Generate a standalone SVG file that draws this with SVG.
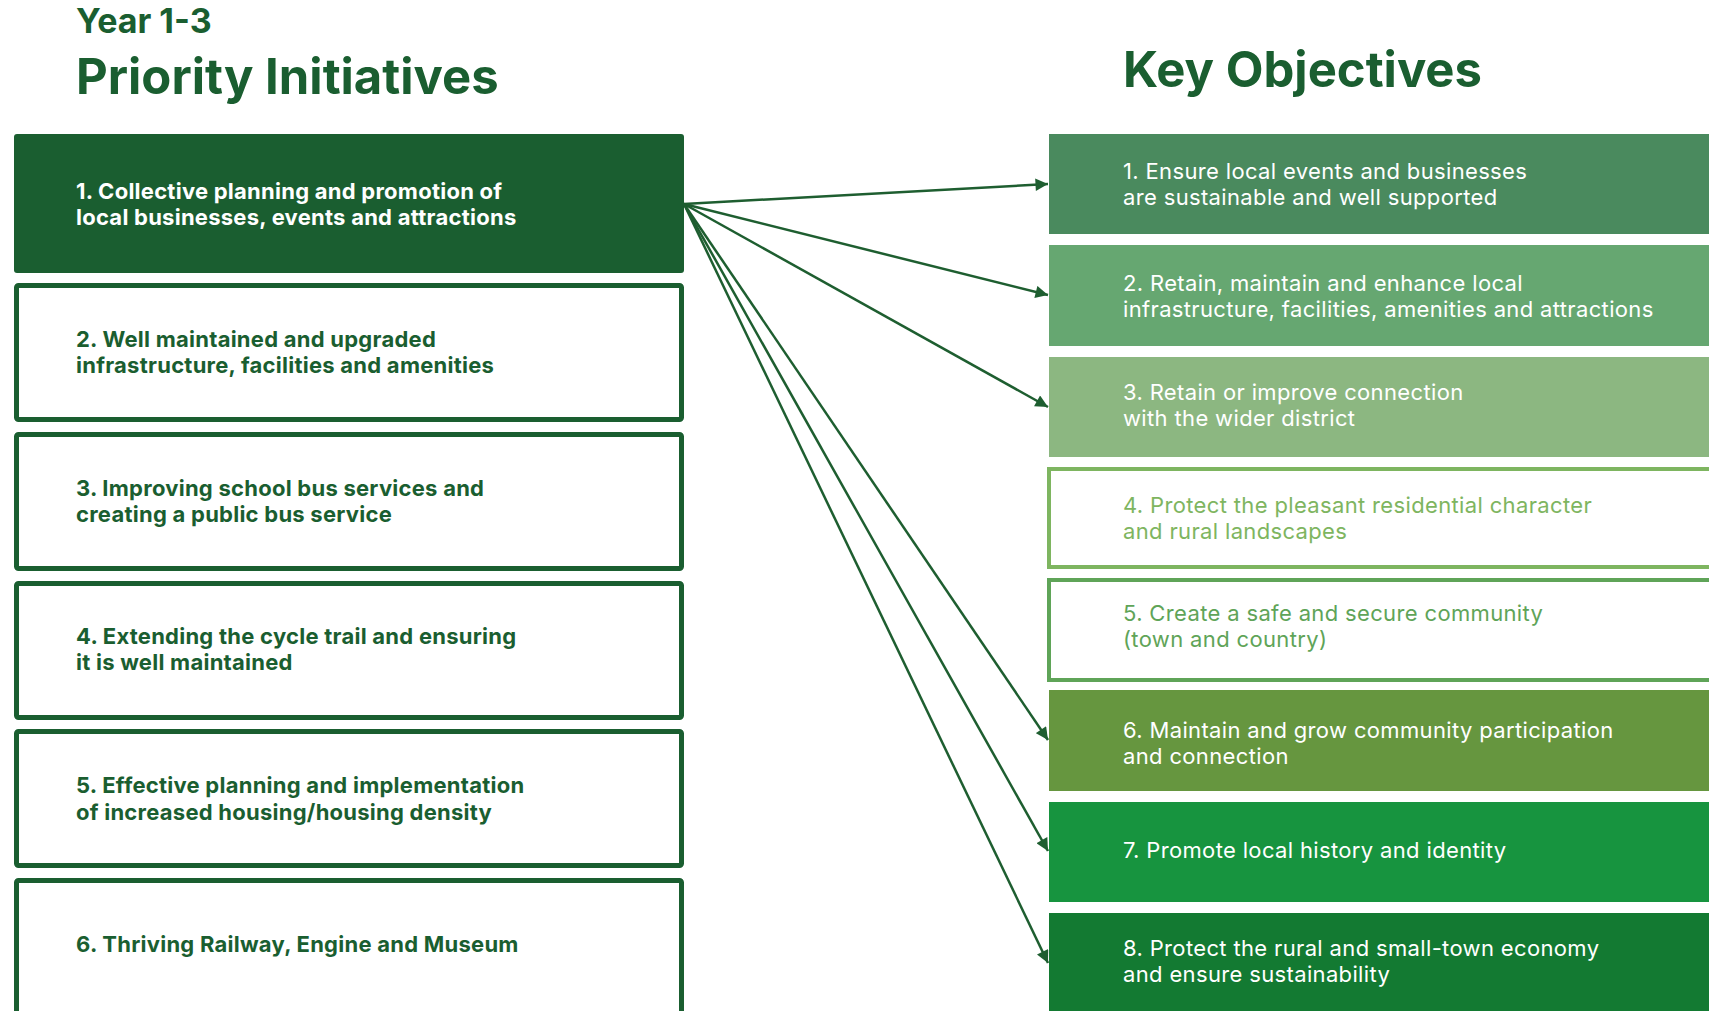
<svg xmlns="http://www.w3.org/2000/svg" width="1709" height="1011" viewBox="0 0 1709 1011">
<defs>
<style>
.ttl{font-family:Inter,"Noto Sans",sans-serif;font-weight:700;fill:#1A5E30}
.lt{font-family:Inter,"Noto Sans",sans-serif;font-weight:700;font-size:22px;letter-spacing:0.25px;fill:#1A5E30}
.lt.w{fill:#ffffff}
.rt{font-family:Inter,"Noto Sans",sans-serif;font-weight:400;font-size:22px;letter-spacing:0.35px;fill:#ffffff}
.lbox{fill:#ffffff;stroke:#1A5E30;stroke-width:5}
.con{stroke:#1E5E30;stroke-width:2.5;fill:none;marker-end:url(#ah)}
</style>
<marker id="ah" viewBox="0 0 10 10" refX="10" refY="5" markerWidth="5.5" markerHeight="5" orient="auto" markerUnits="strokeWidth">
<path d="M0,0 L10,5 L0,10 z" fill="#1E5E30"/>
</marker>
</defs>
<rect width="1709" height="1011" fill="#ffffff"/>
<g id="titles">
<text class="ttl" x="76" y="33" font-size="34">Year 1-3</text>
<text class="ttl" x="76" y="94" font-size="49">Priority Initiatives</text>
<text class="ttl" x="1123" y="87" font-size="49">Key Objectives</text>
</g>
<g id="initiative-1">
<rect x="14" y="134" width="670" height="139" rx="3" fill="#1A5E30"/>
<text class="lt w" x="76" y="199">1. Collective planning and promotion of</text>
<text class="lt w" x="76" y="225">local businesses, events and attractions</text>
</g>
<g id="initiative-2">
<rect class="lbox" x="16.5" y="285.5" width="665" height="134" rx="2"/>
<text class="lt" x="76" y="347">2. Well maintained and upgraded</text>
<text class="lt" x="76" y="373">infrastructure, facilities and amenities</text>
</g>
<g id="initiative-3">
<rect class="lbox" x="16.5" y="434.5" width="665" height="134" rx="2"/>
<text class="lt" x="76" y="496">3. Improving school bus services and</text>
<text class="lt" x="76" y="522">creating a public bus service</text>
</g>
<g id="initiative-4">
<rect class="lbox" x="16.5" y="583.5" width="665" height="134" rx="2"/>
<text class="lt" x="76" y="644">4. Extending the cycle trail and ensuring</text>
<text class="lt" x="76" y="670">it is well maintained</text>
</g>
<g id="initiative-5">
<rect class="lbox" x="16.5" y="731.5" width="665" height="134" rx="2"/>
<text class="lt" x="76" y="793">5. Effective planning and implementation</text>
<text class="lt" x="76" y="820">of increased housing/housing density</text>
</g>
<g id="initiative-6">
<rect class="lbox" x="16.5" y="880.5" width="665" height="140" rx="2"/>
<text class="lt" x="76" y="952">6. Thriving Railway, Engine and Museum</text>
</g>
<g id="objective-1">
<rect x="1049" y="134" width="680" height="100" fill="#4A8A5E"/>
<text class="rt" x="1123" y="179">1. Ensure local events and businesses</text>
<text class="rt" x="1123" y="205">are sustainable and well supported</text>
</g>
<g id="objective-2">
<rect x="1049" y="245" width="680" height="101" fill="#66A771"/>
<text class="rt" x="1123" y="291">2. Retain, maintain and enhance local</text>
<text class="rt" x="1123" y="317">infrastructure, facilities, amenities and attractions</text>
</g>
<g id="objective-3">
<rect x="1049" y="357" width="680" height="100" fill="#8CB781"/>
<text class="rt" x="1123" y="400">3. Retain or improve connection</text>
<text class="rt" x="1123" y="426">with the wider district</text>
</g>
<g id="objective-4">
<rect x="1049" y="469" width="680" height="98" fill="#ffffff" stroke="#7EB560" stroke-width="4"/>
<text class="rt" x="1123" y="513" style="fill:#7EB560">4. Protect the pleasant residential character</text>
<text class="rt" x="1123" y="539" style="fill:#7EB560">and rural landscapes</text>
</g>
<g id="objective-5">
<rect x="1049" y="580" width="680" height="100" fill="#ffffff" stroke="#5FA458" stroke-width="4"/>
<text class="rt" x="1123" y="621" style="fill:#5FA458">5. Create a safe and secure community</text>
<text class="rt" x="1123" y="647" style="fill:#5FA458">(town and country)</text>
</g>
<g id="objective-6">
<rect x="1049" y="690" width="680" height="101" fill="#66963F"/>
<text class="rt" x="1123" y="738">6. Maintain and grow community participation</text>
<text class="rt" x="1123" y="764">and connection</text>
</g>
<g id="objective-7">
<rect x="1049" y="802" width="680" height="100" fill="#17943F"/>
<text class="rt" x="1123" y="858">7. Promote local history and identity</text>
</g>
<g id="objective-8">
<rect x="1049" y="913" width="680" height="110" fill="#137A32"/>
<text class="rt" x="1123" y="956">8. Protect the rural and small-town economy</text>
<text class="rt" x="1123" y="982">and ensure sustainability</text>
</g>
<g id="connectors">
<line class="con" x1="684" y1="204" x2="1048" y2="184"/>
<line class="con" x1="684" y1="204" x2="1048" y2="295"/>
<line class="con" x1="684" y1="204" x2="1048" y2="407"/>
<line class="con" x1="684" y1="204" x2="1048" y2="740"/>
<line class="con" x1="684" y1="204" x2="1048" y2="851"/>
<line class="con" x1="684" y1="204" x2="1048" y2="963"/>
</g>
</svg>
